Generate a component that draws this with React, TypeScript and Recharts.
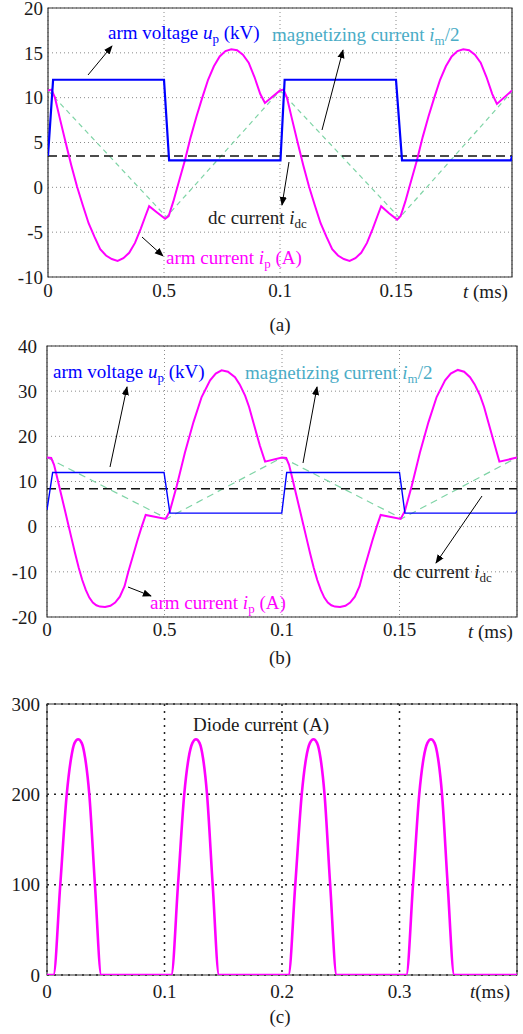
import React from 'react';
import { LineChart, Line, XAxis, YAxis, CartesianGrid, ReferenceArea } from 'recharts';

const serif = '"Liberation Serif", "Times New Roman", serif';

// ---------- panel (a) ----------
const aTimeTicks = [0, 0.05, 0.1, 0.15];
const aTimeLabels = ['0', '0.5', '0.1', '0.15'];
const aValueTicks = [-10, -5, 0, 5, 10, 15, 20];

const aVoltT = [0, 0.0022, 0.05, 0.0522, 0.1002, 0.102, 0.15, 0.1526, 0.1995, 0.2];
const aVoltV = [3.5, 12, 12, 3, 3, 12, 12, 3, 3, 3.5];

const aDcT = [0, 0.2];
const aDcV = [3.5, 3.5];

const aMagT = [0, 0.051, 0.1, 0.1515, 0.2];
const aMagV = [10.8, -3.3, 10.8, -3.4, 10.7];

const aArmT = [
  0, 0.0015, 0.003, 0.005, 0.0075, 0.01, 0.0125, 0.015, 0.0175, 0.02, 0.0225, 0.025, 0.0275, 0.03,
  0.0325, 0.035, 0.0375, 0.04, 0.042, 0.0436, 0.047, 0.0505, 0.052, 0.054, 0.0565, 0.059, 0.0615,
  0.064, 0.0665, 0.069, 0.0715, 0.074, 0.0765, 0.079, 0.0815, 0.084, 0.0865, 0.089, 0.0915, 0.0935,
  0.1, 0.1015, 0.103, 0.105, 0.1075, 0.11, 0.1125, 0.115, 0.1175, 0.12, 0.1225, 0.125, 0.1275, 0.13,
  0.1325, 0.135, 0.1375, 0.14, 0.142, 0.1436, 0.147, 0.1505, 0.152, 0.154, 0.1565, 0.159, 0.1615,
  0.164, 0.1665, 0.169, 0.1715, 0.174, 0.1765, 0.179, 0.1815, 0.184, 0.1865, 0.189, 0.1915, 0.1935,
  0.2,
];
const aArmV = [
  10.8, 10.9, 10.0, 7.8, 5.1, 2.5, 0.1, -2.0, -4.0, -5.5, -6.9, -7.6, -8.0, -8.2,
  -7.9, -7.3, -6.2, -4.6, -3.2, -2.1, -2.8, -3.5, -3.2, -1.6, 0.7, 3.0, 5.6,
  7.9, 10.0, 12.0, 13.5, 14.6, 15.2, 15.4, 15.3, 14.8, 13.9, 12.3, 10.4, 9.4,
  10.8, 10.9, 10.0, 7.8, 5.1, 2.5, 0.1, -2.0, -4.0, -5.5, -6.9, -7.6, -8.0, -8.2,
  -7.9, -7.3, -6.2, -4.6, -3.2, -2.1, -2.9, -3.6, -3.2, -1.6, 0.7, 3.0, 5.6,
  7.9, 10.0, 12.0, 13.5, 14.6, 15.2, 15.4, 15.3, 14.8, 13.9, 12.3, 10.4, 9.3,
  10.8,
];

// ---------- panel (b) ----------
const bTimeTicks = [0, 0.05, 0.1, 0.15];
const bTimeLabels = ['0', '0.5', '0.1', '0.15'];
const bValueTicks = [-20, -10, 0, 10, 20, 30, 40];

const bVoltT = [0, 0.0024, 0.0498, 0.0523, 0.0999, 0.102, 0.15, 0.1523, 0.1995, 0.2];
const bVoltV = [3.7, 12, 12, 3, 3, 12, 12, 3, 3, 3.5];

const bDcT = [0, 0.2];
const bDcV = [8.4, 8.4];

const bMagT = [0, 0.051, 0.1, 0.151, 0.2];
const bMagV = [15.3, 1.8, 15.3, 1.8, 15.3];

const bArmT = [
  0, 0.0018, 0.003, 0.0045, 0.006, 0.0075, 0.009, 0.0105, 0.012, 0.0135, 0.015, 0.0165, 0.018,
  0.0195, 0.021, 0.0225, 0.0247, 0.027, 0.029, 0.031, 0.033, 0.0346, 0.0365, 0.0385, 0.0403, 0.042,
  0.0505, 0.0523, 0.0552, 0.0587, 0.0623, 0.0658, 0.0694, 0.0718, 0.0743, 0.077, 0.08, 0.082, 0.0843,
  0.086, 0.0878, 0.0906, 0.0928,
  0.1, 0.1018, 0.103, 0.1045, 0.106, 0.1075, 0.109, 0.1105, 0.112, 0.1135, 0.115, 0.1165, 0.118,
  0.1195, 0.121, 0.1225, 0.1247, 0.127, 0.129, 0.131, 0.133, 0.1346, 0.1365, 0.1385, 0.1403, 0.142,
  0.1505, 0.1523, 0.1552, 0.1587, 0.1623, 0.1658, 0.1694, 0.1718, 0.1748, 0.1775, 0.18, 0.182, 0.1843,
  0.186, 0.1878, 0.1906, 0.1925, 0.2,
];
const bArmV = [
  15.3, 15.2, 13.7, 10.5, 7.2, 3.9, 0.6, -2.7, -6.0, -9.1, -11.8, -14.0, -15.7,
  -16.8, -17.4, -17.7, -17.8, -17.5, -16.8, -15.5, -13.2, -10.0, -6.6, -3.0, 0.0, 2.6,
  1.7, 3.5, 9.0, 16.4, 23.1, 28.7, 32.4, 33.9, 34.6, 34.3, 33.1, 31.5, 29.0,
  26.5, 23.1, 17.9, 14.4,
  15.3, 15.2, 13.7, 10.5, 7.2, 3.9, 0.6, -2.7, -6.0, -9.1, -11.8, -14.0, -15.7,
  -16.8, -17.4, -17.7, -17.8, -17.5, -16.8, -15.5, -13.2, -10.0, -6.6, -3.0, 0.0, 2.6,
  1.7, 3.5, 9.0, 16.4, 23.1, 28.7, 32.4, 33.9, 34.7, 34.3, 33.1, 31.5, 29.0,
  26.5, 23.1, 17.9, 14.4, 15.3,
];

// ---------- panel (c) ----------
const cTimeTicks = [0, 0.1, 0.2, 0.3];
const cTimeLabels = ['0', '0.1', '0.2', '0.3'];
const cValueTicks = [0, 100, 200, 300];

const cDiodeT = [
  0, 0.0055, 0.0113, 0.0168, 0.0205, 0.0235, 0.0265, 0.0295, 0.0325, 0.036, 0.0408, 0.0462,
  0.1058, 0.1115, 0.1168, 0.1205, 0.1238, 0.1268, 0.1298, 0.1328, 0.1362, 0.141, 0.1464,
  0.2055, 0.2113, 0.2168, 0.2205, 0.2238, 0.2268, 0.2298, 0.2328, 0.2362, 0.241, 0.2465,
  0.3058, 0.3115, 0.3168, 0.3205, 0.3238, 0.3268, 0.3298, 0.3328, 0.3362, 0.341, 0.3466,
  0.4,
];
const cDiodeV = [
  0, 0, 100, 200, 240, 257, 261, 257, 240, 200, 100, 0,
  0, 100, 200, 240, 257, 261, 257, 240, 200, 100, 0,
  0, 100, 200, 240, 257, 261, 257, 240, 200, 100, 0,
  0, 100, 200, 240, 257, 261, 257, 240, 200, 100, 0,
  0,
];

const zip = (ts: number[], vs: number[]) => ts.map((t, i) => ({ t, v: vs[i] }));

type Series = {
  data: { t: number; v: number }[];
  color: string;
  width: number;
  dash?: string;
  curve?: 'linear' | 'monotone';
};

function Panel(props: {
  top: number;
  height: number;
  margin: { top: number; right: number; bottom: number; left: number };
  xDomain: [number, number];
  yDomain: [number, number];
  xTicks: number[];
  xLabels: string[];
  yTicks: number[];
  xTickMargin: number;
  yTickMargin: number;
  grid: { stroke: string; dash: string; width: number };
  border: string;
  series: Series[];
}) {
  const tickStyle = { fontSize: 19, fill: '#1a1a1a', fontFamily: serif };
  return (
    <div style={{ position: 'absolute', left: 0, top: props.top }}>
      <LineChart width={523} height={props.height} margin={props.margin} style={{ overflow: 'visible' }}>
        <CartesianGrid
          stroke={props.grid.stroke}
          strokeDasharray={props.grid.dash}
          strokeWidth={props.grid.width}
        />
        <XAxis
          type="number"
          dataKey="t"
          domain={props.xDomain}
          ticks={props.xTicks}
          interval={0}
          allowDataOverflow
          axisLine={false}
          tickLine={false}
          tickSize={0}
          tickMargin={props.xTickMargin}
          height={30}
          tick={tickStyle}
          tickFormatter={(_v: number, i: number) => props.xLabels[i]}
        />
        <YAxis
          type="number"
          domain={props.yDomain}
          ticks={props.yTicks}
          interval={0}
          allowDataOverflow
          axisLine={false}
          tickLine={false}
          tickSize={0}
          tickMargin={props.yTickMargin}
          width={40}
          tick={tickStyle}
        />
        {props.series.map((s, i) => (
          <Line
            key={i}
            data={s.data}
            dataKey="v"
            type={s.curve ?? 'linear'}
            stroke={s.color}
            strokeWidth={s.width}
            strokeDasharray={s.dash}
            dot={false}
            activeDot={false}
            isAnimationActive={false}
          />
        ))}
        <ReferenceArea
          x1={props.xDomain[0]}
          x2={props.xDomain[1]}
          y1={props.yDomain[0]}
          y2={props.yDomain[1]}
          fill="none"
          fillOpacity={0}
          stroke={props.border}
          strokeWidth={1.2}
        />
      </LineChart>
    </div>
  );
}

const arrows = [
  [88, 75, 112, 46],
  [322, 130, 343, 50],
  [289, 162, 282, 205],
  [142, 237, 163, 256],
  [110, 467, 127, 387],
  [303, 463, 317, 387],
  [482, 496, 436, 563],
  [128, 587, 151, 596],
];

// variable symbol with subscript, followed by the rest of the label on the main baseline
function Sym({ v, s, rest }: { v: string; s: string; rest: string }) {
  return (
    <>
      <tspan fontStyle="italic">{v}</tspan>
      <tspan fontSize={13} dy={4}>{s}</tspan>
      <tspan dy={-4}>{rest}</tspan>
    </>
  );
}

export default function App() {
  const blue = '#0000ff';
  const magenta = '#ff00ff';
  const green = '#7fd4a6';
  const teal = '#4aacc6';
  const ink = '#1a1a1a';
  return (
    <div style={{ position: 'absolute', left: 0, top: 0, width: 523, height: 1034, background: '#fff', fontFamily: serif }}>
      <Panel
        top={0}
        height={310}
        margin={{ top: 8, right: 11, bottom: 3, left: 8 }}
        xDomain={[0, 0.2]}
        yDomain={[-10, 20]}
        xTicks={aTimeTicks}
        xLabels={aTimeLabels}
        yTicks={aValueTicks}
        xTickMargin={7}
        yTickMargin={5}
        grid={{ stroke: '#8a8a8a', dash: '1 3', width: 1 }}
        border="#333"
        series={[
          { data: zip(aMagT, aMagV), color: green, width: 1.2, dash: '5 4' },
          { data: zip(aDcT, aDcV), color: '#111', width: 1.4, dash: '9 5' },
          { data: zip(aArmT, aArmV), color: magenta, width: 2 },
          { data: zip(aVoltT, aVoltV), color: blue, width: 2.2 },
        ]}
      />
      <Panel
        top={330}
        height={330}
        margin={{ top: 16, right: 6, bottom: 13, left: 7 }}
        xDomain={[0, 0.2]}
        yDomain={[-20, 40]}
        xTicks={bTimeTicks}
        xLabels={bTimeLabels}
        yTicks={bValueTicks}
        xTickMargin={6}
        yTickMargin={10}
        grid={{ stroke: '#8a8a8a', dash: '1 3', width: 1 }}
        border="#333"
        series={[
          { data: zip(bMagT, bMagV), color: green, width: 1.2, dash: '7 5' },
          { data: zip(bDcT, bDcV), color: '#111', width: 1.4, dash: '9 5' },
          { data: zip(bArmT, bArmV), color: magenta, width: 2 },
          { data: zip(bVoltT, bVoltV), color: blue, width: 1.4 },
        ]}
      />
      <Panel
        top={690}
        height={320}
        margin={{ top: 14, right: 6, bottom: 5, left: 7 }}
        xDomain={[0, 0.4]}
        yDomain={[0, 300]}
        xTicks={cTimeTicks}
        xLabels={cTimeLabels}
        yTicks={cValueTicks}
        xTickMargin={10}
        yTickMargin={7}
        grid={{ stroke: '#222', dash: '2 5', width: 1.5 }}
        border="#333"
        series={[{ data: zip(cDiodeT, cDiodeV), color: magenta, width: 2.6, curve: 'monotone' }]}
      />
      <svg
        width={523}
        height={1034}
        style={{ position: 'absolute', left: 0, top: 0, pointerEvents: 'none' }}
        fontFamily={serif}
        fontSize={19}
      >
        <defs>
          <marker id="ah" viewBox="0 0 10 10" refX="9" refY="5" markerWidth="9" markerHeight="9" orient="auto">
            <path d="M0,1 L10,5 L0,9 z" fill="#000" />
          </marker>
        </defs>
        {arrows.map((a, i) => (
          <line key={i} x1={a[0]} y1={a[1]} x2={a[2]} y2={a[3]} stroke="#000" strokeWidth={1} markerEnd="url(#ah)" />
        ))}

        {/* panel (a) labels */}
        <text x={108} y={39} fill={blue}>
          arm voltage <Sym v="u" s="p" rest=" (kV)" />
        </text>
        <text x={272} y={41} fill={teal}>
          magnetizing current <Sym v="i" s="m" rest="/2" />
        </text>
        <text x={208} y={224} fill="#222">
          dc current <Sym v="i" s="dc" rest="" />
        </text>
        <text x={166} y={264} fill={magenta}>
          arm current <Sym v="i" s="p" rest=" (A)" />
        </text>
        <text x={463} y={298} fill={ink}>
          <tspan fontStyle="italic">t</tspan> (ms)
        </text>
        <text x={280} y={331} textAnchor="middle" fill={ink}>(a)</text>

        {/* panel (b) labels */}
        <text x={53} y={378} fill={blue}>
          arm voltage <Sym v="u" s="p" rest=" (kV)" />
        </text>
        <text x={245} y={379} fill={teal}>
          magnetizing current <Sym v="i" s="m" rest="/2" />
        </text>
        <text x={393} y={578} fill="#222">
          dc current <Sym v="i" s="dc" rest="" />
        </text>
        <text x={150} y={609} fill={magenta}>
          arm current <Sym v="i" s="p" rest=" (A)" />
        </text>
        <text x={468} y={638} fill={ink}>
          <tspan fontStyle="italic">t</tspan> (ms)
        </text>
        <text x={280} y={664} textAnchor="middle" fill={ink}>(b)</text>

        {/* panel (c) labels */}
        <text x={193} y={731} fill={ink}>Diode current (A)</text>
        <text x={470} y={998} fill={ink}>
          <tspan fontStyle="italic">t</tspan>(ms)
        </text>
        <text x={280} y={1023} textAnchor="middle" fill={ink}>(c)</text>
      </svg>
    </div>
  );
}
